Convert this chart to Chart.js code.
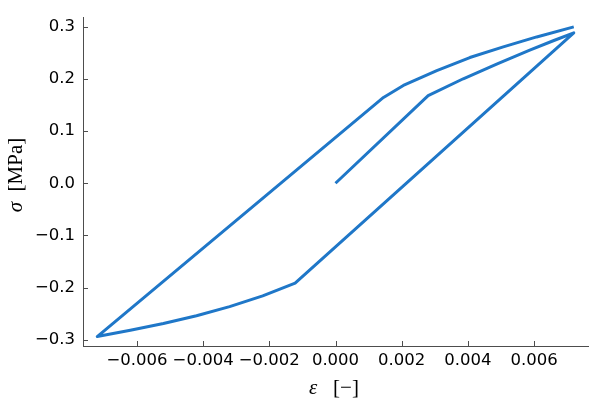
<!DOCTYPE html>
<html>
<head>
<meta charset="utf-8">
<script src="https://cdn.jsdelivr.net/npm/chart.js@4"></script>
<style>
  html, body { margin: 0; padding: 0; background: #fff; }
  #wrap { width: 600px; height: 400px; }
</style>
</head>
<body>
<div id="wrap"><canvas id="chart"></canvas></div>
<script>
// strain and stress values along the loop
const strain = [0, 0.0028, 0.00386, 0.00487, 0.00587, 0.00658, 0.0072,
                -0.00122, -0.0022, -0.0032, -0.0042, -0.0052, -0.0062, -0.0072,
                0.00145, 0.00205, 0.00306, 0.00406, 0.00507, 0.00608, 0.0072];
const stress = [0, 0.168, 0.2003, 0.2286, 0.2551, 0.2732, 0.2884,
                -0.1915, -0.216, -0.2365, -0.254, -0.269, -0.282, -0.294,
                0.1645, 0.1875, 0.216, 0.241, 0.2615, 0.2805, 0.2997];

const xTicks = [-0.006, -0.004, -0.002, 0, 0.002, 0.004, 0.006];
const yTicks = [-0.3, -0.2, -0.1, 0, 0.1, 0.2, 0.3];

const lineColor = 'rgb(31, 119, 200)';
const axisColor = '#4d4d4d';

function fmt(v, digits) {
    const s = Math.abs(v).toFixed(digits);
    return (v < -1e-12 ? '\u2212' : '') + s;
}

// petits traits de graduation vers l'intérieur + titres des axes
const axisExtras = {
    id: 'axisExtras',
    afterDraw(chart) {
        const ctx = chart.ctx;
        const area = chart.chartArea;
        const xs = chart.scales.x, ys = chart.scales.y;
        ctx.save();
        ctx.strokeStyle = axisColor;
        ctx.lineWidth = 1;
        ctx.beginPath();
        xs.ticks.forEach((t, i) => {
            const px = Math.round(xs.getPixelForTick(i)) + 0.5;
            ctx.moveTo(px, area.bottom);
            ctx.lineTo(px, area.bottom - 5);
        });
        ys.ticks.forEach((t, i) => {
            const py = Math.round(ys.getPixelForTick(i)) + 0.5;
            ctx.moveTo(area.left, py);
            ctx.lineTo(area.left + 5, py);
        });
        ctx.stroke();

        // titres: lettre grecque en italique, unité droite
        ctx.fillStyle = '#000';
        ctx.textBaseline = 'middle';
        ctx.textAlign = 'left';
        const it = 'italic 21px "Liberation Serif"';
        const up = '21px "Liberation Serif"';

        // axe x
        ctx.font = it;
        const wE = ctx.measureText('\u03b5').width;
        ctx.font = up;
        const wU = ctx.measureText('   [\u2212]').width;
        let x0 = 334 - (wE + wU) / 2;
        ctx.font = it;
        ctx.fillText('\u03b5', x0, 388);
        ctx.font = up;
        ctx.fillText('   [\u2212]', x0 + wE, 388);

        // axe y
        ctx.translate(16, 175);
        ctx.rotate(-Math.PI / 2);
        ctx.font = it;
        const wS = ctx.measureText('\u03c3').width;
        ctx.font = up;
        const wM = ctx.measureText('  [MPa]').width;
        x0 = -(wS + wM) / 2;
        ctx.font = it;
        ctx.fillText('\u03c3', x0, 0);
        ctx.font = up;
        ctx.fillText('  [MPa]', x0 + wS, 0);
        ctx.restore();
    }
};

const points = strain.map((x, i) => ({ x: x, y: stress[i] }));

new Chart(document.getElementById('chart'), {
    type: 'scatter',
    data: {
        datasets: [{
            data: points,
            showLine: true,
            borderColor: lineColor,
            backgroundColor: lineColor,
            borderWidth: 3,
            borderJoinStyle: 'round',
            pointRadius: 0,
            tension: 0
        }]
    },
    options: {
        responsive: true,
        maintainAspectRatio: false,
        animation: false,
        layout: { padding: { top: 12, right: 12, left: 0, bottom: 0 } },
        plugins: {
            legend: { display: false },
            tooltip: { enabled: false }
        },
        scales: {
            x: {
                type: 'linear',
                min: -0.00763,
                max: 0.00763,
                afterFit: s => { s.height = 54; },
                afterBuildTicks: s => { s.ticks = xTicks.map(v => ({ value: v })); },
                grid: { display: true, drawOnChartArea: false, drawTicks: false },
                border: { display: true, color: axisColor, width: 1 },
                ticks: {
                    color: '#000',
                    padding: 5,
                    maxRotation: 0,
                    autoSkip: false,
                    font: { family: '"DejaVu Sans"', size: 16.5 },
                    callback: v => fmt(v, 3)
                }
            },
            y: {
                type: 'linear',
                min: -0.3121,
                max: 0.317,
                afterFit: s => { s.width = 83; },
                afterBuildTicks: s => { s.ticks = yTicks.map(v => ({ value: v })); },
                grid: { display: true, drawOnChartArea: false, drawTicks: false },
                border: { display: true, color: axisColor, width: 1 },
                ticks: {
                    color: '#000',
                    padding: 8,
                    autoSkip: false,
                    font: { family: '"DejaVu Sans"', size: 16.5 },
                    callback: v => fmt(v, 1)
                }
            }
        }
    },
    plugins: [axisExtras]
});
</script>
</body>
</html>
